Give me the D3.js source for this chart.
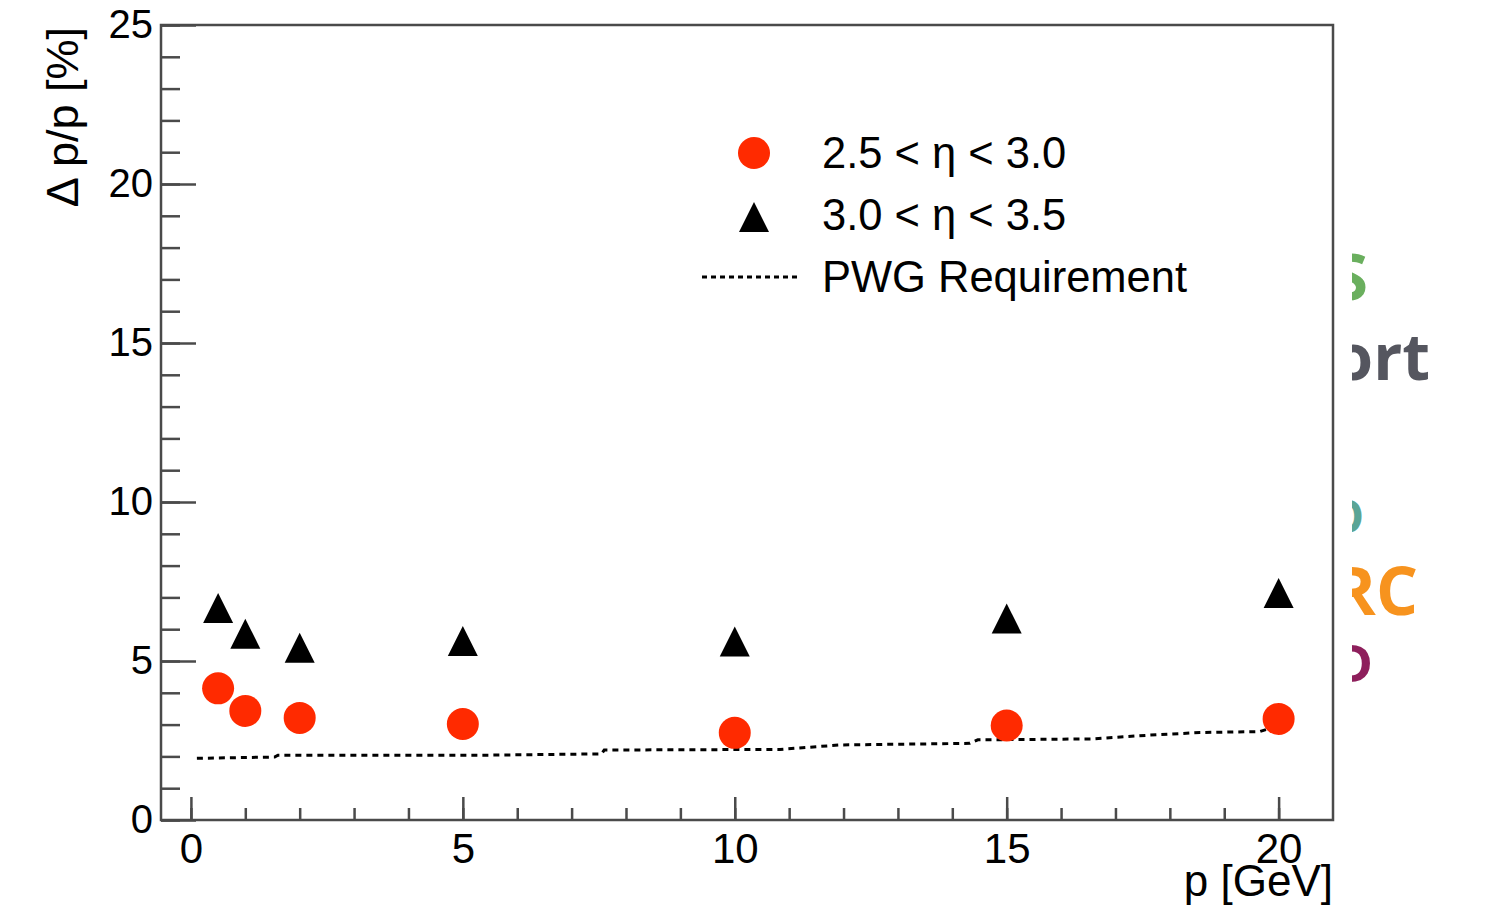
<!DOCTYPE html>
<html>
<head>
<meta charset="utf-8">
<script src="https://cdn.jsdelivr.net/npm/d3@7"></script>
<style>
  html, body { margin: 0; padding: 0; background: #fff; }
  svg { display: block; font-family: "Liberation Sans", Arial, sans-serif; }
</style>
</head>
<body>
<div id="chart"></div>
<script>
// values
const momenta = [0.5, 1, 2, 5, 10, 15, 20];
const resLow = [4.14, 3.43, 3.21, 3.02, 2.74, 2.97, 3.18];   // 2.5 < eta < 3.0
const resHigh = [6.67, 5.86, 5.42, 5.63, 5.61, 6.34, 7.14];  // 3.0 < eta < 3.5
const reqP = [0.11, 1.54, 1.6, 5.5, 7.55, 7.6, 10.83, 11.93, 14.32, 14.47, 16.58, 17.63, 18.55, 19.65, 19.8];
const reqV = [1.94, 1.98, 2.04, 2.04, 2.08, 2.2, 2.22, 2.36, 2.41, 2.52, 2.55, 2.67, 2.75, 2.78, 2.86];
const xMajor = [0, 5, 10, 15, 20];
const xMinor = d3.range(0, 21);
const yMajor = [0, 5, 10, 15, 20, 25];
const yMinor = d3.range(0, 26);
const legendLabels = ['2.5 < \u03b7 < 3.0', '3.0 < \u03b7 < 3.5', 'PWG Requirement'];

const width = 1486;
const height = 922;
const frame = { left: 161, right: 1333, top: 25, bottom: 820 };
const red = '#ff2a00';
const axisColor = '#4a4a4a';

const svg = d3.select('#chart')
  .append('svg')
  .attr('width', width)
  .attr('height', height);

// leftovers of the slide behind the plot, cut at the plot edge
svg.append('clipPath').attr('id', 'slideClip')
  .append('rect').attr('x', 1352).attr('y', 0).attr('width', 200).attr('height', height);

const slide = svg.append('g').attr('clip-path', 'url(#slideClip)')
  .style('font-family', '"Open Sans", sans-serif')
  .style('font-weight', 700)
  .attr('text-anchor', 'end');
slide.append('text').attr('x', 1368).attr('y', 300).attr('font-size', 64).attr('fill', '#6aaf5e').text('S');
slide.append('text').attr('x', 1430).attr('y', 380).attr('font-size', 64).attr('fill', '#55565f').text('ort');
slide.append('text').attr('x', 1364).attr('y', 533).attr('font-size', 46).attr('fill', '#5aa596').text('O');
slide.append('text').attr('x', 1418).attr('y', 615).attr('font-size', 66).attr('fill', '#f7931e').text('RC');
slide.append('text').attr('x', 1373).attr('y', 682).attr('font-size', 52).attr('fill', '#8e1f5c').text('D');

// Scales
const xScale = d3.scaleLinear().domain([-0.55, 21.0]).range([frame.left, frame.right]);
const yScale = d3.scaleLinear().domain([0, 25]).range([frame.bottom, frame.top]);

// Frame
svg.append('rect')
  .attr('x', frame.left)
  .attr('y', frame.top)
  .attr('width', frame.right - frame.left)
  .attr('height', frame.bottom - frame.top)
  .attr('fill', 'none')
  .attr('stroke', axisColor)
  .attr('stroke-width', 2.5);

// Axes (ticks point into the frame)
function styleAxis(g) {
  g.select('.domain').remove();
  g.selectAll('line').attr('stroke', axisColor).attr('stroke-width', 2.5);
  g.selectAll('text').attr('fill', '#000');
}

svg.append('g')
  .attr('transform', `translate(0, ${frame.bottom})`)
  .call(d3.axisBottom(xScale).tickValues(xMinor).tickSize(-12).tickFormat(''))
  .call(styleAxis);

svg.append('g')
  .attr('transform', `translate(0, ${frame.bottom})`)
  .call(d3.axisBottom(xScale).tickValues(xMajor).tickSize(-23).tickPadding(13).tickFormat(d3.format('d')))
  .call(styleAxis)
  .selectAll('text').attr('font-size', 42);

svg.append('g')
  .attr('transform', `translate(${frame.left}, 0)`)
  .call(d3.axisLeft(yScale).tickValues(yMinor).tickSize(-19).tickFormat(''))
  .call(styleAxis);

svg.append('g')
  .attr('transform', `translate(${frame.left}, 0)`)
  .call(d3.axisLeft(yScale).tickValues(yMajor).tickSize(-35).tickPadding(8).tickFormat(d3.format('d')))
  .call(styleAxis)
  .selectAll('text').attr('font-size', 40);

// Axis titles
svg.append('text')
  .attr('transform', 'translate(78, 27) rotate(-90)')
  .attr('text-anchor', 'end')
  .attr('font-size', 45)
  .text('\u0394 p/p [%]');

svg.append('text')
  .attr('x', frame.right)
  .attr('y', 896)
  .attr('text-anchor', 'end')
  .attr('font-size', 44)
  .text('p [GeV]');

// PWG requirement (dotted)
const reqLine = d3.line()
  .x((d, i) => xScale(reqP[i]))
  .y((d) => yScale(d));

svg.append('path')
  .datum(reqV)
  .attr('d', reqLine)
  .attr('fill', 'none')
  .attr('stroke', '#000')
  .attr('stroke-width', 3)
  .attr('stroke-dasharray', '6,5');

// Markers
function trianglePath(cx, cy, r) {
  return `M${cx - r},${cy + r}L${cx + r},${cy + r}L${cx},${cy - r}Z`;
}

svg.append('g').selectAll('path')
  .data(resHigh)
  .join('path')
  .attr('d', (d, i) => trianglePath(xScale(momenta[i]), yScale(d), 15))
  .attr('fill', '#000');

svg.append('g').selectAll('circle')
  .data(resLow)
  .join('circle')
  .attr('cx', (d, i) => xScale(momenta[i]))
  .attr('cy', (d) => yScale(d))
  .attr('r', 16)
  .attr('fill', red);

// Legend
const legend = svg.append('g');
legend.append('circle').attr('cx', 754).attr('cy', 153).attr('r', 16).attr('fill', red);
legend.append('path').attr('d', trianglePath(754, 217, 15)).attr('fill', '#000');
legend.append('line')
  .attr('x1', 702).attr('x2', 797).attr('y1', 277).attr('y2', 277)
  .attr('stroke', '#000').attr('stroke-width', 3).attr('stroke-dasharray', '5,4');

legend.selectAll('text')
  .data(legendLabels)
  .join('text')
  .attr('x', 822)
  .attr('y', (d, i) => 168 + i * 62)
  .attr('font-size', 43.5)
  .text((d) => d);
</script>
</body>
</html>
